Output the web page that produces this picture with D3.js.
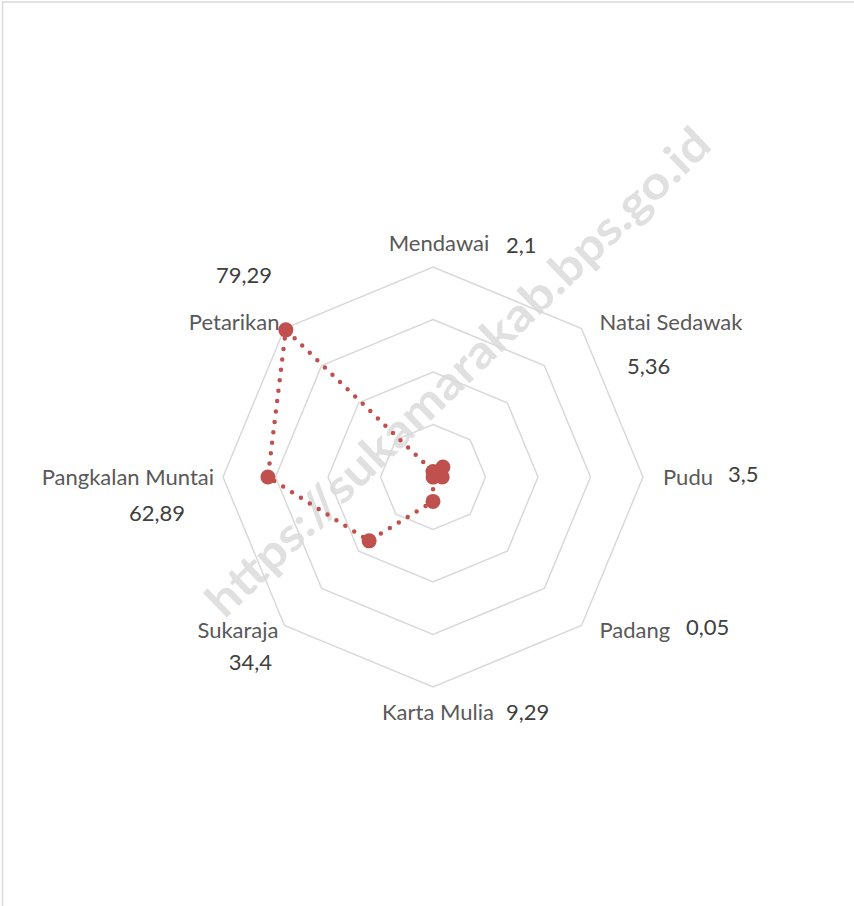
<!DOCTYPE html>
<html>
<head>
<meta charset="utf-8">
<script src="https://cdn.jsdelivr.net/npm/d3@7"></script>
<style>
  body { margin: 0; background: #fff; }
  svg { display: block; }
  .cat { font-family: Lato, "Open Sans", sans-serif; font-size: 22px; fill: #595959; }
  .val { font-family: Lato, "Open Sans", sans-serif; font-size: 22px; fill: #404040; }
</style>
</head>
<body>
<div class="chart"></div>
<script>
// data
var categories = ["Mendawai", "Natai Sedawak", "Pudu", "Padang", "Karta Mulia", "Sukaraja", "Pangkalan Muntai", "Petarikan"];
var values = [2.1, 5.36, 3.5, 0.05, 9.29, 34.4, 62.89, 79.29];
var valueLabels = ["2,1", "5,36", "3,5", "0,05", "9,29", "34,4", "62,89", "79,29"];
var ringTicks = [20, 40, 60, 80];

// layout
var width = 854, height = 906,
    cx = 433, cy = 477, radius = 210;

// category label anchors / nudges (relative to outer vertex)
var catLayout = [
    { anchor: "middle", dx: 6,   dy: -24 },
    { anchor: "start",  dx: 18,  dy: -6 },
    { anchor: "start",  dx: 20,  dy: 0 },
    { anchor: "start",  dx: 18,  dy: 5 },
    { anchor: "middle", dx: 5,   dy: 25 },
    { anchor: "end",    dx: -6,  dy: 5 },
    { anchor: "end",    dx: -9,  dy: 0 },
    { anchor: "end",    dx: -5,  dy: -6 }
];
// value label positions (relative to chart centre)
var valLayout = [
    { anchor: "start", dx: 73,   dy: -232 },
    { anchor: "start", dx: 194,  dy: -111 },
    { anchor: "start", dx: 295,  dy: -3 },
    { anchor: "start", dx: 253,  dy: 150 },
    { anchor: "start", dx: 73,   dy: 235 },
    { anchor: "end",   dx: -161, dy: 185 },
    { anchor: "end",   dx: -248, dy: 36 },
    { anchor: "end",   dx: -161, dy: -202 }
];

var svg = d3.select(".chart").append("svg")
    .attr("width", width)
    .attr("height", height);

// chart area border (only top/left visible in the crop)
svg.append("rect")
    .attr("x", 2.5)
    .attr("y", 2)
    .attr("width", 1000)
    .attr("height", 1000)
    .attr("fill", "none")
    .attr("stroke", "#d9d9d9")
    .attr("stroke-width", 1.5);

var r = d3.scaleLinear().domain([0, 80]).range([0, radius]);
var angle = d3.scalePoint().domain(categories).range([0, 2 * Math.PI * 7 / 8]);

function px(name, v) { return cx + r(v) * Math.sin(angle(name)); }
function py(name, v) { return cy - r(v) * Math.cos(angle(name)); }

// watermark
svg.append("text")
    .attr("transform", "translate(458,372) rotate(-44)")
    .attr("text-anchor", "middle")
    .attr("dy", "0.35em")
    .attr("textLength", 680)
    .attr("lengthAdjust", "spacingAndGlyphs")
    .style("font-family", "Lato, 'Open Sans', sans-serif")
    .style("font-weight", "bold")
    .style("font-size", "46px")
    .style("fill", "#e0e0e0")
    .text("https://sukamarakab.bps.go.id");

// grid rings
var ring = d3.line()
    .x(function(d) { return d[0]; })
    .y(function(d) { return d[1]; })
    .curve(d3.curveLinearClosed);

svg.append("g")
    .attr("class", "grid")
    .selectAll("path")
    .data(ringTicks)
    .enter().append("path")
    .attr("d", function(t) {
        return ring(categories.map(function(c) { return [px(c, t), py(c, t)]; }));
    })
    .attr("fill", "none")
    .attr("stroke", "#d9d9d9")
    .attr("stroke-width", 1.5);

// series
var pts = categories.map(function(c, i) {
    return { name: c, v: values[i], x: px(c, values[i]), y: py(c, values[i]) };
});

svg.append("path")
    .attr("d", ring(pts.map(function(d) { return [d.x, d.y]; })))
    .attr("fill", "none")
    .attr("stroke", "#c0504d")
    .attr("stroke-width", 4.5)
    .attr("stroke-linecap", "round")
    .attr("stroke-dasharray", "0 10.5");

svg.append("g")
    .selectAll("circle")
    .data(pts)
    .enter().append("circle")
    .attr("cx", function(d) { return d.x; })
    .attr("cy", function(d) { return d.y; })
    .attr("r", 7.5)
    .attr("fill", "#c0504d");

// category labels
svg.append("g")
    .selectAll("text")
    .data(categories)
    .enter().append("text")
    .attr("class", "cat")
    .attr("x", function(c, i) { return px(c, 80) + catLayout[i].dx; })
    .attr("y", function(c, i) { return py(c, 80) + catLayout[i].dy; })
    .attr("dy", "0.35em")
    .attr("text-anchor", function(c, i) { return catLayout[i].anchor; })
    .text(function(c) { return c; });

// value labels
svg.append("g")
    .selectAll("text")
    .data(valueLabels)
    .enter().append("text")
    .attr("class", "val")
    .attr("x", function(d, i) { return cx + valLayout[i].dx; })
    .attr("y", function(d, i) { return cy + valLayout[i].dy; })
    .attr("dy", "0.35em")
    .attr("text-anchor", function(d, i) { return valLayout[i].anchor; })
    .text(function(d) { return d; });
</script>
</body>
</html>
